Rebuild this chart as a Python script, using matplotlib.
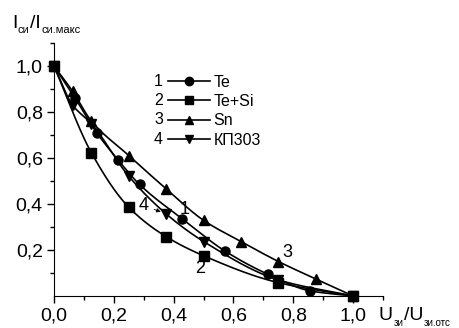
import numpy as np
import matplotlib
matplotlib.use("Agg")
import matplotlib.pyplot as plt
from matplotlib.lines import Line2D

plt.rcParams['font.family'] = ['Liberation Sans', 'DejaVu Sans']

# ---- data ----
x_te = [0.0, 0.071, 0.143, 0.214, 0.286, 0.429, 0.571, 0.714, 0.857, 1.0]
y_te = [1.0, 0.86, 0.71, 0.592, 0.485, 0.335, 0.196, 0.095, 0.022, 0.0]

x_tesi = [0.0, 0.125, 0.25, 0.375, 0.5, 0.75, 1.0]
y_tesi = [1.0, 0.623, 0.386, 0.258, 0.175, 0.058, 0.0]

x_sn = [0.0, 0.0625, 0.125, 0.25, 0.375, 0.5, 0.625, 0.75, 0.875, 1.0]
y_sn = [1.0, 0.89, 0.761, 0.611, 0.466, 0.329, 0.237, 0.15, 0.074, 0.0]

x_kp = [0.0, 0.0625, 0.125, 0.25, 0.375, 0.5, 0.75, 1.0]
y_kp = [1.0, 0.83, 0.75, 0.521, 0.357, 0.237, 0.07, 0.0]

labels = ['Te', 'Te+Si', 'Sn', 'КП303']
numbers = ['1', '2', '3', '4']
markers = ['o', 's', '^', 'v']
xticks = [0.0, 0.2, 0.4, 0.6, 0.8, 1.0]
xticklabels = ['0,0', '0,2', '0,4', '0,6', '0,8', '1,0']
yticks = [0.2, 0.4, 0.6, 0.8, 1.0]
yticklabels = ['0,2', '0,4', '0,6', '0,8', '1,0']


def pchip(x, y, xs):
    x = np.asarray(x, float); y = np.asarray(y, float)
    h = np.diff(x); d = np.diff(y) / h
    n = len(x); m = np.zeros(n)
    for k in range(1, n - 1):
        if d[k - 1] * d[k] > 0:
            w1 = 2 * h[k] + h[k - 1]; w2 = h[k] + 2 * h[k - 1]
            m[k] = (w1 + w2) / (w1 / d[k - 1] + w2 / d[k])
    m[0] = d[0]; m[-1] = d[-1]
    idx = np.clip(np.searchsorted(x, xs) - 1, 0, n - 2)
    t = (xs - x[idx]) / h[idx]
    h00 = 2*t**3 - 3*t**2 + 1; h10 = t**3 - 2*t**2 + t
    h01 = -2*t**3 + 3*t**2; h11 = t**3 - t**2
    return h00*y[idx] + h10*h[idx]*m[idx] + h01*y[idx+1] + h11*h[idx]*m[idx+1]


fig = plt.figure(figsize=(4.59, 3.28), dpi=100)
ax = fig.add_axes([0.1176, 0.0976, 0.717, 0.771])

series = [(x_te, y_te), (x_tesi, y_tesi), (x_sn, y_sn), (x_kp, y_kp)]
handles = []
for (xs, ys), mk, lab in zip(series, markers, labels):
    xx = np.linspace(0, 1, 300)
    ax.plot(xx, pchip(xs, ys, xx), color='black', lw=1.2)
    ax.plot(xs, ys, ls='none', marker=mk, color='black', ms=6.5, clip_on=False)
    handles.append(Line2D([], [], color='black', lw=1.2, marker=mk, ms=6))

ax.set_xlim(0, 1.1)
ax.set_ylim(0, 1.1)
ax.spines['top'].set_visible(False)
ax.spines['right'].set_visible(False)
ax.set_xticks(xticks)
ax.set_xticklabels(xticklabels)
ax.set_yticks(yticks)
ax.set_yticklabels(yticklabels)
ax.set_xticks(np.arange(0.1, 1.11, 0.2), minor=True)
ax.set_yticks(np.arange(0.1, 1.11, 0.2), minor=True)
ax.tick_params(which='major', direction='out', length=5, width=1, labelsize=14, pad=3)
ax.tick_params(which='minor', direction='out', length=3, width=1)

leg = ax.legend(handles, labels, loc='upper left', bbox_to_anchor=(0.347, 0.875),
                frameon=False, fontsize=11.5, handlelength=2.6, handletextpad=0.25,
                labelspacing=0.27, borderpad=0, borderaxespad=0)
fig.canvas.draw()
renderer = fig.canvas.get_renderer()
for txt, h in zip(numbers, leg.legend_handles):
    bb = h.get_window_extent(renderer)
    fig.text(bb.x0 - 1, (bb.y0 + bb.y1) / 2, txt, fontsize=11.5, ha='right', va='center',
             transform=None)

ax.text(0.437, 0.376, '1', fontsize=13, ha='center', va='center')
ax.text(0.49, 0.118, '2', fontsize=13, ha='center', va='center')
ax.text(0.78, 0.19, '3', fontsize=13, ha='center', va='center')
ax.annotate('4', xy=(0.37, 0.36), xytext=(0.3, 0.393), fontsize=13, ha='center', va='center',
            arrowprops=dict(arrowstyle='-|>', color='black', lw=0.6, mutation_scale=6,
                            shrinkA=2, shrinkB=3))


def compose(x_px, base_px, pieces):
    """pieces: list of (text, fontsize, drop_px). Place sequentially in pixel coords
    (base_px measured from the top of the image)."""
    x = x_px
    for s, fs, drop in pieces:
        t = fig.text(x, 328 - base_px - drop, s, fontsize=fs, ha='left', va='baseline',
                     transform=None)
        x = t.get_window_extent(renderer).x1 + 0.5


compose(12, 28, [('I', 14, 0), ('си', 8, 5), ('/I', 14, 0), ('си.макс', 8, 5)])
compose(379, 320, [('U', 14, 0), ('зи', 7, 6), ('/U', 14, 0), ('зи.отс', 7, 6)])

fig.savefig('out.png', dpi=100)
